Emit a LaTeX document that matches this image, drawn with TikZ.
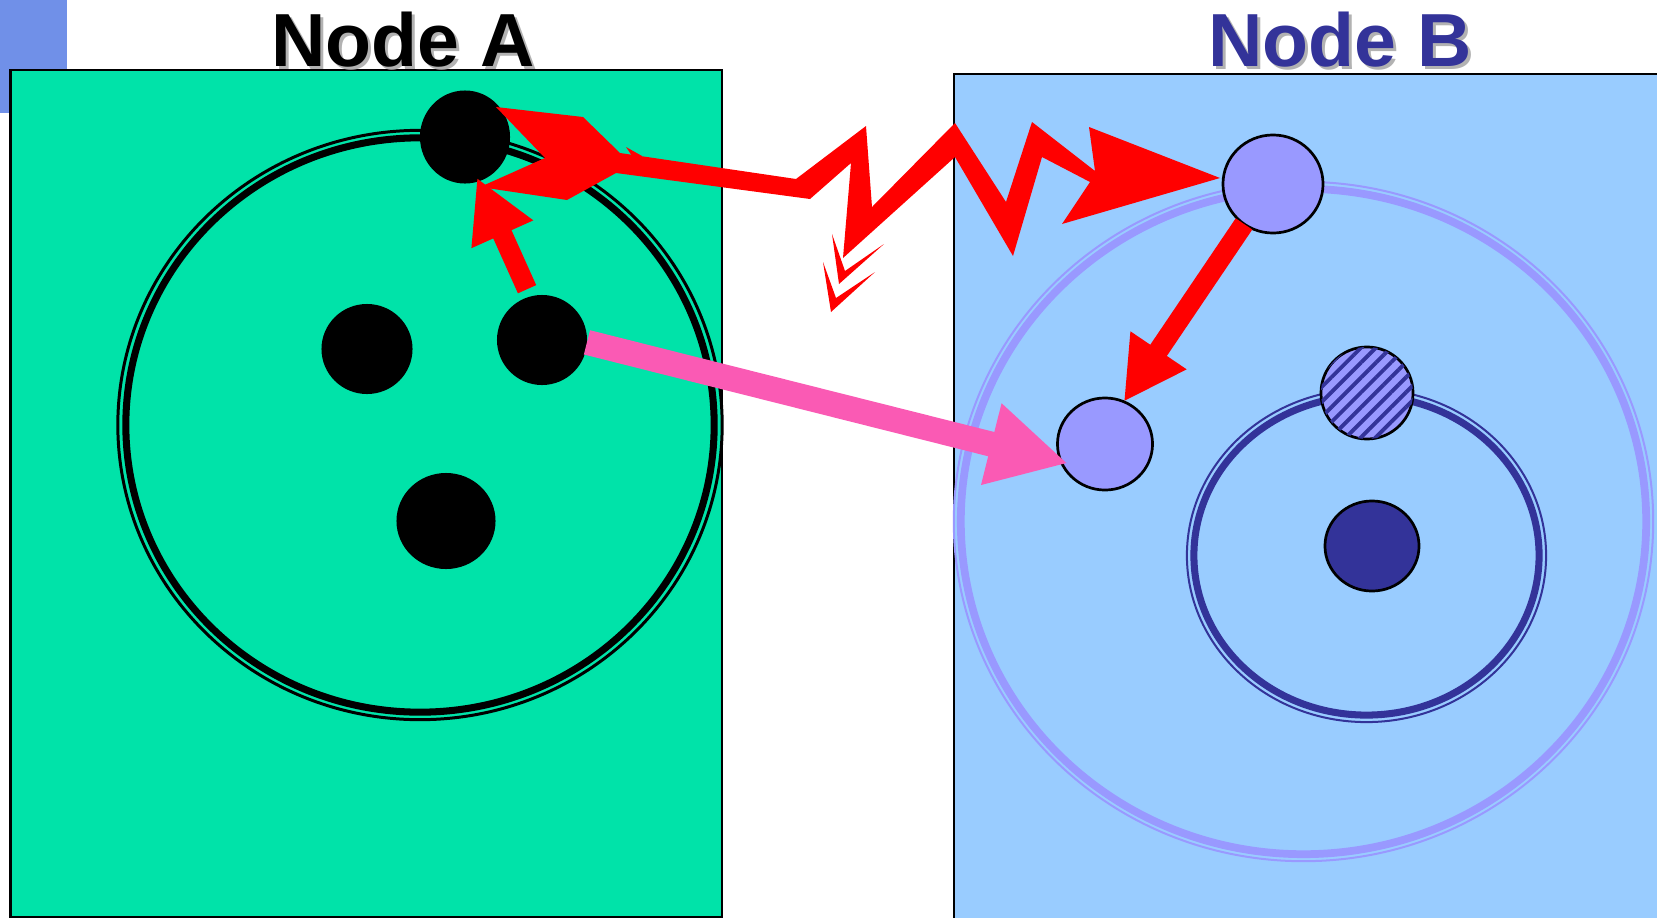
\documentclass[tikz,border=0pt]{standalone}
\usepackage{fontspec}
\setmainfont{Liberation Sans}
\usetikzlibrary{positioning}
\usetikzlibrary{arrows.meta}
\usetikzlibrary{shapes.geometric}
\usetikzlibrary{patterns.meta}
\definecolor{cornerblue}{RGB}{112,144,232}
\definecolor{nodeAgreen}{RGB}{0,227,169}
\definecolor{nodeBblue}{RGB}{153,204,255}
\definecolor{lilac}{RGB}{153,153,255}
\definecolor{deepblue}{RGB}{51,51,153}
\definecolor{hotpink}{RGB}{250,90,180}
\definecolor{shadowgrey}{RGB}{178,178,178}
\tikzset{blob/.style = {ellipse, inner sep=0, outer sep=0}}
\tikzset{dotA/.style = {blob, fill=black}}
\tikzset{ballB/.style = {blob, draw=black, line width=0.77pt, fill=lilac}}
\tikzset{title/.style = {font=\fontsize{21.4}{24}\selectfont\bfseries, anchor=base}}
\tikzset{fat/.style = {line width=0.2cm, red, -{Triangle[length=0.62cm,width=0.63cm]}}}
\tikzset{fatpink/.style = {line width=0.25cm, hotpink, -{Triangle[length=0.79cm,width=0.78cm]}}}

\begin{document}
\begin{tikzpicture}[x=0.01cm, y=-0.01cm]
      \useasboundingbox (0,0) rectangle (1657,918);
      \fill[cornerblue] (0,0) rectangle (67,113);
      \draw[fill=nodeAgreen, line width=0.57pt] (10.5,70) rectangle (722,917);
      \fill[nodeBblue] (954,74) rectangle (1657,918);
      \draw[line width=0.57pt] (954,918) |- (1657,74);
      \node[title, text=shadowgrey] (titleAsh) at (406,70) {Node A};
      \node[title] (titleA) at (403,67) {Node A};
      \node[title, text=shadowgrey] (titleBsh) at (1343,70) {Node B};
      \node[title, text=deepblue] (titleB) at (1340,67) {Node B};
      \draw[line width=0.85pt] (420,425) ellipse [x radius=3.02cm, y radius=2.945cm];
      \draw[line width=2pt] (420,425) ellipse [x radius=2.94cm, y radius=2.87cm];
      \draw[lilac, line width=0.57pt] (1303.5,521.5) ellipse [x radius=3.495cm, y radius=3.395cm];
      \draw[lilac, line width=2.2pt] (1303.5,521.5) ellipse [x radius=3.425cm, y radius=3.325cm];
      \draw[deepblue, line width=0.57pt] (1366.5,555.5) ellipse [x radius=1.795cm, y radius=1.665cm];
      \draw[deepblue, line width=2pt] (1366.5,555.5) ellipse [x radius=1.725cm, y radius=1.595cm];
      \node[dotA, minimum width=0.90cm, minimum height=0.93cm] (topA) at (465,137) {};
      \node[dotA, minimum width=0.90cm, minimum height=0.90cm] (rightA) at (542,340) {};
      \node[dotA, minimum width=0.91cm, minimum height=0.90cm] (leftA) at (367,349) {};
      \node[dotA, minimum width=0.99cm, minimum height=0.96cm] (lowA) at (446,521) {};
      \node[ballB, minimum width=1.00cm, minimum height=0.98cm] (topB) at (1273,184) {};
      \node[ballB, minimum width=0.95cm, minimum height=0.92cm] (sideB) at (1105,444) {};
      \node[ballB, minimum width=0.92cm, minimum height=0.92cm,
            postaction={pattern={Lines[angle=45,distance=3pt,line width=1.1pt]},
                        pattern color=deepblue}] (hatchB) at (1367,393) {};
      \node[ballB, fill=deepblue, minimum width=0.94cm, minimum height=0.90cm] (coreB) at (1372,546) {};
      \draw[fat, shorten <=0.08cm, shorten >=-0.04cm] (rightA.105) -- (topA.-73);
      \draw[fat] (topB.234) -- (sideB.66);
      \draw[fatpink, shorten >=-0.07cm] (rightA.-3) -- (sideB.202);
      % lightning between the two top nodes
      \fill[red] (496,107) -- (583,117) -- (620,153) -- (796,179) -- (866,126)
            -- (872,207) -- (955,123) -- (1006,202) -- (1032,122) -- (1095,171)
            -- (1089,127) -- (1220,178) -- (1062,224) -- (1090,182) -- (1042,157)
            -- (1013,256) -- (955,157) -- (843,258) -- (851,163) -- (810,199)
            -- (616,173) -- (567,200) -- (480,187) -- (545,158) -- cycle;
      \fill[red] (626,147) -- (642,156) -- (632,156) -- cycle;
      \fill[red] (832,234) -- (839,284) -- (884,244) -- (845,271) -- cycle;
      \fill[red] (823,262) -- (831,312) -- (875,272) -- (836,298) -- cycle;
\end{tikzpicture}
\end{document}
